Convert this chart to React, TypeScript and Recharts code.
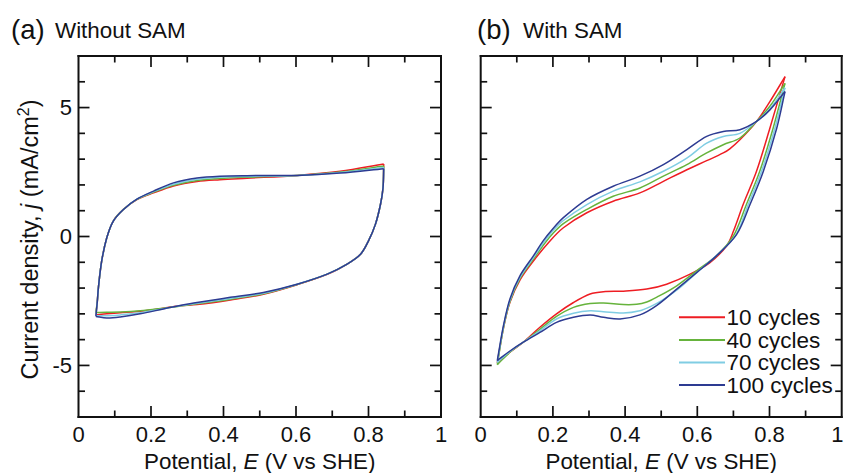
import React from 'react';
import { LineChart, Line, XAxis, YAxis, Legend } from 'recharts';

const FONT = '"Liberation Sans", Arial, Helvetica, sans-serif';
const INK = '#111';

// ---- series meta ----
const seriesNames = ['10 cycles', '40 cycles', '70 cycles', '100 cycles'];
const seriesColors = ['#ee1d23', '#66b33c', '#80cde3', '#2d3b92'];

// ---- tick values / labels ----
const xTickValues = [0, 0.1, 0.2, 0.3, 0.4, 0.5, 0.6, 0.7, 0.8, 0.9, 1];
const xTickLabels = ['0', '', '0.2', '', '0.4', '', '0.6', '', '0.8', '', '1'];
const yTickValues = [-6, -5, -4, -3, -2, -1, 0, 1, 2, 3, 4, 5, 6];
const yTickLabels = ['', '-5', '', '', '', '', '0', '', '', '', '', '5', ''];

// ---- (a) Without SAM : [E (V vs SHE), j (mA/cm2)] ----
// anodic sweep (E increasing)
const aRedFwd = [[0.048,-3.04],[0.052,-2.5],[0.055,-1.97],[0.064,-0.95],[0.078,-0.05],[0.096,0.6],[0.124,1.05],[0.16,1.42],[0.207,1.69],[0.262,1.96],[0.327,2.13],[0.39,2.2],[0.465,2.26],[0.603,2.37],[0.722,2.53],[0.842,2.81]];
const aGreenFwd = [[0.048,-2.95],[0.052,-2.5],[0.055,-1.97],[0.064,-0.95],[0.078,-0.05],[0.096,0.6],[0.124,1.05],[0.16,1.43],[0.207,1.72],[0.262,1.99],[0.327,2.17],[0.39,2.25],[0.465,2.3],[0.603,2.37],[0.722,2.5],[0.842,2.73]];
const aLightFwd = [[0.048,-3.08],[0.052,-2.5],[0.055,-1.97],[0.064,-0.95],[0.078,-0.05],[0.096,0.6],[0.124,1.05],[0.16,1.44],[0.207,1.74],[0.262,2.03],[0.327,2.22],[0.39,2.3],[0.465,2.33],[0.603,2.37],[0.722,2.48],[0.842,2.68]];
const aBlueFwd = [[0.048,-3.1],[0.052,-2.5],[0.055,-1.97],[0.064,-0.95],[0.078,-0.05],[0.096,0.6],[0.124,1.05],[0.16,1.44],[0.207,1.76],[0.262,2.08],[0.327,2.27],[0.39,2.34],[0.465,2.36],[0.603,2.37],[0.722,2.46],[0.842,2.63]];
// cathodic sweep (listed with E increasing)
const aRedRev = [[0.048,-3.04],[0.078,-3.0],[0.115,-2.96],[0.17,-2.9],[0.234,-2.78],[0.28,-2.69],[0.327,-2.64],[0.419,-2.46],[0.51,-2.24],[0.603,-1.87],[0.686,-1.47],[0.741,-1.07],[0.778,-0.69],[0.8,-0.17],[0.819,0.47],[0.833,1.24],[0.84,1.88],[0.842,2.81]];
const aGreenRev = [[0.048,-2.95],[0.078,-2.94],[0.115,-2.93],[0.17,-2.88],[0.234,-2.78],[0.28,-2.7],[0.327,-2.61],[0.419,-2.43],[0.51,-2.22],[0.603,-1.86],[0.686,-1.46],[0.741,-1.07],[0.778,-0.69],[0.8,-0.17],[0.819,0.47],[0.833,1.24],[0.84,1.88],[0.842,2.73]];
const aLightRev = [[0.048,-3.08],[0.078,-3.07],[0.115,-3.04],[0.17,-2.96],[0.234,-2.8],[0.28,-2.69],[0.327,-2.59],[0.419,-2.4],[0.51,-2.2],[0.603,-1.85],[0.686,-1.46],[0.741,-1.07],[0.778,-0.69],[0.8,-0.17],[0.819,0.47],[0.833,1.24],[0.84,1.88],[0.842,2.68]];
const aBlueRev = [[0.048,-3.1],[0.078,-3.16],[0.115,-3.12],[0.17,-3.0],[0.234,-2.81],[0.28,-2.68],[0.327,-2.56],[0.419,-2.36],[0.51,-2.17],[0.603,-1.85],[0.686,-1.46],[0.741,-1.07],[0.778,-0.69],[0.8,-0.17],[0.819,0.47],[0.833,1.24],[0.84,1.88],[0.842,2.63]];

// ---- (b) With SAM ----
const bRedFwd = [[0.046,-4.9],[0.063,-3.55],[0.081,-2.55],[0.109,-1.68],[0.146,-0.95],[0.19,-0.2],[0.229,0.34],[0.294,0.92],[0.367,1.37],[0.441,1.69],[0.506,2.14],[0.571,2.59],[0.626,2.94],[0.672,3.24],[0.69,3.4],[0.718,3.75],[0.764,4.46],[0.801,5.23],[0.843,6.2]];
const bGreenFwd = [[0.046,-4.97],[0.063,-3.55],[0.081,-2.52],[0.109,-1.62],[0.146,-0.88],[0.178,-0.25],[0.2,0.12],[0.229,0.5],[0.294,1.05],[0.367,1.56],[0.441,1.88],[0.506,2.34],[0.571,2.79],[0.626,3.24],[0.672,3.56],[0.718,3.82],[0.764,4.46],[0.801,5.05],[0.843,5.94]];
const bLightFwd = [[0.046,-4.88],[0.063,-3.5],[0.081,-2.47],[0.109,-1.58],[0.146,-0.82],[0.175,-0.22],[0.2,0.22],[0.229,0.62],[0.294,1.24],[0.367,1.76],[0.441,2.12],[0.506,2.53],[0.571,3.04],[0.626,3.62],[0.672,3.88],[0.718,4.0],[0.764,4.46],[0.801,4.95],[0.843,5.77]];
const bBlueFwd = [[0.046,-4.81],[0.063,-3.46],[0.081,-2.42],[0.109,-1.52],[0.146,-0.75],[0.173,-0.17],[0.2,0.3],[0.229,0.73],[0.294,1.44],[0.367,1.95],[0.441,2.34],[0.506,2.79],[0.571,3.37],[0.626,3.88],[0.672,4.07],[0.718,4.14],[0.764,4.46],[0.801,4.91],[0.843,5.62]];
const bRedRev = [[0.046,-4.9],[0.08,-4.5],[0.118,-4.1],[0.164,-3.52],[0.21,-3.0],[0.257,-2.56],[0.303,-2.23],[0.34,-2.14],[0.395,-2.12],[0.46,-2.04],[0.515,-1.85],[0.58,-1.46],[0.635,-1.01],[0.681,-0.37],[0.7,0.2],[0.727,1.24],[0.764,2.53],[0.801,4.2],[0.843,6.2]];
const bGreenRev = [[0.046,-4.97],[0.08,-4.5],[0.118,-4.1],[0.164,-3.6],[0.21,-3.1],[0.257,-2.75],[0.303,-2.6],[0.34,-2.58],[0.395,-2.64],[0.432,-2.63],[0.46,-2.54],[0.487,-2.36],[0.543,-1.91],[0.598,-1.33],[0.653,-0.75],[0.7,0.02],[0.736,1.24],[0.773,2.53],[0.81,4.2],[0.843,5.94]];
const bLightRev = [[0.046,-4.88],[0.08,-4.47],[0.118,-4.1],[0.164,-3.66],[0.21,-3.2],[0.257,-2.98],[0.303,-2.88],[0.34,-2.92],[0.395,-2.97],[0.441,-2.88],[0.47,-2.72],[0.5,-2.5],[0.55,-2.0],[0.6,-1.38],[0.653,-0.74],[0.707,0.06],[0.741,1.24],[0.778,2.53],[0.815,4.2],[0.843,5.77]];
const bBlueRev = [[0.046,-4.81],[0.08,-4.45],[0.118,-4.1],[0.164,-3.72],[0.21,-3.33],[0.257,-3.13],[0.303,-3.04],[0.34,-3.13],[0.386,-3.2],[0.441,-3.04],[0.487,-2.68],[0.543,-2.04],[0.598,-1.4],[0.653,-0.75],[0.709,0.08],[0.746,1.24],[0.783,2.53],[0.82,4.2],[0.843,5.62]];

const panelA = [[aRedFwd, aRedRev], [aGreenFwd, aGreenRev], [aLightFwd, aLightRev], [aBlueFwd, aBlueRev]];
const panelB = [[bRedFwd, bRedRev], [bGreenFwd, bGreenRev], [bLightFwd, bLightRev], [bBlueFwd, bBlueRev]];

const toPts = (arr: number[][]) => arr.map(([x, y]) => ({ x, y }));

// Smooth interpolating curve (chord-length Catmull-Rom style) used as a d3 curve factory.
function smoothCurve(context: any) {
  let pts: number[][] = [];
  return {
    areaStart() {},
    areaEnd() {},
    lineStart() {
      pts = [];
    },
    point(x: number, y: number) {
      pts.push([+x, +y]);
    },
    lineEnd() {
      const n = pts.length;
      if (!n) return;
      context.moveTo(pts[0][0], pts[0][1]);
      if (n === 1) return;
      if (n === 2) {
        context.lineTo(pts[1][0], pts[1][1]);
        return;
      }
      const d: number[] = [];
      for (let i = 0; i < n - 1; i++) {
        d.push(Math.max(1e-6, Math.hypot(pts[i + 1][0] - pts[i][0], pts[i + 1][1] - pts[i][1])));
      }
      const m: number[][] = [];
      for (let i = 0; i < n; i++) {
        if (i === 0) m.push([(pts[1][0] - pts[0][0]) / d[0], (pts[1][1] - pts[0][1]) / d[0]]);
        else if (i === n - 1) m.push([(pts[n - 1][0] - pts[n - 2][0]) / d[n - 2], (pts[n - 1][1] - pts[n - 2][1]) / d[n - 2]]);
        else {
          const s = d[i - 1] + d[i];
          m.push([(pts[i + 1][0] - pts[i - 1][0]) / s, (pts[i + 1][1] - pts[i - 1][1]) / s]);
        }
      }
      for (let i = 0; i < n - 1; i++) {
        const k = d[i] / 3;
        context.bezierCurveTo(
          pts[i][0] + m[i][0] * k, pts[i][1] + m[i][1] * k,
          pts[i + 1][0] - m[i + 1][0] * k, pts[i + 1][1] - m[i + 1][1] * k,
          pts[i + 1][0], pts[i + 1][1]
        );
      }
    },
  };
}

const MAJOR = 11;
const MINOR = 6.5;

function labelFor(values: number[], labels: string[], v: number) {
  const i = values.findIndex((t) => Math.abs(t - v) < 1e-9);
  return i >= 0 ? labels[i] : '';
}
function isEdge(v: number, lo: number, hi: number) {
  return Math.abs(v - lo) < 1e-9 || Math.abs(v - hi) < 1e-9;
}

const makeBottomTick = (maxX: number) => (p: any) => {
  const v = p.payload.value;
  const lab = labelFor(xTickValues, xTickLabels, v);
  const len = lab ? MAJOR : MINOR;
  const half = lab.length * 6.1 + 0.5;
  const tx = Math.min(p.x, maxX - half);
  return (
    <g>
      {!isEdge(v, 0, 1) && <line x1={p.x} x2={p.x} y1={p.y} y2={p.y - len} stroke={INK} strokeWidth={1.7} />}
      {lab && (
        <text x={tx} y={p.y + 25} textAnchor="middle" fontSize={22} fontFamily={FONT} fill={INK}>{lab}</text>
      )}
    </g>
  );
};
const TopTick = (p: any) => {
  const v = p.payload.value;
  const lab = labelFor(xTickValues, xTickLabels, v);
  const len = lab ? MAJOR : MINOR;
  if (isEdge(v, 0, 1)) return <g />;
  return <line x1={p.x} x2={p.x} y1={p.y} y2={p.y + len} stroke={INK} strokeWidth={1.7} />;
};
const makeLeftTick = (showLabels: boolean) => (p: any) => {
  const v = p.payload.value;
  const lab = labelFor(yTickValues, yTickLabels, v);
  const len = lab ? MAJOR : MINOR;
  return (
    <g>
      <line x1={p.x} x2={p.x + len} y1={p.y} y2={p.y} stroke={INK} strokeWidth={1.7} />
      {showLabels && lab && (
        <text x={p.x - 6.5} y={p.y + 7.8} textAnchor="end" fontSize={22} fontFamily={FONT} fill={INK}>{lab}</text>
      )}
    </g>
  );
};
const RightTick = (p: any) => {
  const v = p.payload.value;
  const lab = labelFor(yTickValues, yTickLabels, v);
  const len = lab ? MAJOR : MINOR;
  return <line x1={p.x} x2={p.x - len} y1={p.y} y2={p.y} stroke={INK} strokeWidth={1.7} />;
};

const XTitle = (p: any) => {
  const vb = p.viewBox || {};
  return (
    <text x={vb.x + vb.width / 2} y={vb.y + 51.5} textAnchor="middle" fontSize={22.4} fontFamily={FONT} fill={INK} style={{ whiteSpace: 'pre' }}>
      <tspan>Potential, </tspan>
      <tspan fontStyle="italic">E</tspan>
      <tspan> (V vs SHE)</tspan>
    </text>
  );
};

const YTitle = (p: any) => {
  const vb = p.viewBox || {};
  const cx = 38;
  const cy = vb.y + vb.height / 2 + 3;
  return (
    <text x={cx} y={cy} transform={`rotate(-90, ${cx}, ${cy})`} textAnchor="middle" fontSize={23.5} fontFamily={FONT} fill={INK} style={{ whiteSpace: 'pre' }}>
      <tspan>Current density, </tspan>
      <tspan fontStyle="italic">j</tspan>
      <tspan> (mA/cm</tspan>
      <tspan fontSize={16} dy={-9}>2</tspan>
      <tspan dy={9}>)</tspan>
    </text>
  );
};

const LegendBox = () => (
  <svg width={180} height={100} style={{ display: 'block', overflow: 'visible' }}>
    {seriesNames.map((n, i) => {
      const y = 17.3 + 22.6 * i;
      return (
        <g key={n}>
          <line x1={0} x2={46} y1={y} y2={y} stroke={seriesColors[i]} strokeWidth={2} />
          <text x={47.5} y={y + 7.8} fontSize={22.5} fontFamily={FONT} fill={INK}>{n}</text>
        </g>
      );
    })}
  </svg>
);

const axisLine = { stroke: INK, strokeWidth: 2, strokeLinecap: 'square' as const };

function Panel(props: { width: number; margin: any; loops: number[][][][]; yLabels: boolean; yTitle: boolean; legend: boolean }) {
  const { width, margin, loops, yLabels, yTitle, legend } = props;
  return (
    <LineChart width={width} height={473} margin={margin}>
      <XAxis xAxisId="b" dataKey="x" type="number" domain={[0, 1]} ticks={xTickValues} interval={0} orientation="bottom" height={30}
        axisLine={axisLine} tickLine={false} tickSize={0} tickMargin={0} tick={makeBottomTick(width)} allowDataOverflow label={<XTitle />} />
      <XAxis xAxisId="t" dataKey="x" type="number" domain={[0, 1]} ticks={xTickValues} interval={0} orientation="top" height={1}
        axisLine={axisLine} tickLine={false} tickSize={0} tickMargin={0} tick={TopTick} allowDataOverflow />
      <YAxis yAxisId="l" type="number" domain={[-7, 7]} ticks={yTickValues} interval={0} orientation="left" width={40}
        axisLine={axisLine} tickLine={false} tickSize={0} tickMargin={0} tick={makeLeftTick(yLabels)} allowDataOverflow
        label={yTitle ? <YTitle /> : undefined} />
      <YAxis yAxisId="r" type="number" domain={[-7, 7]} ticks={yTickValues} interval={0} orientation="right" width={1}
        axisLine={axisLine} tickLine={false} tickSize={0} tickMargin={0} tick={RightTick} allowDataOverflow />
      {loops.map((pair, si) =>
        pair.map((branch, bi) => (
          <Line key={`${si}-${bi}`} xAxisId="b" yAxisId="l" data={toPts(branch)} dataKey="y" type={smoothCurve as any}
            stroke={seriesColors[si]} strokeWidth={1.5} dot={false} activeDot={false} isAnimationActive={false} name={seriesNames[si]} />
        ))
      )}
      {legend && (
        <Legend layout="vertical" align="center" verticalAlign="middle" content={LegendBox}
          wrapperStyle={{ left: 249, top: 300, width: 180, height: 100 }} />
      )}
    </LineChart>
  );
}

export default function App() {
  return (
    <div style={{ position: 'absolute', left: 0, top: 0, width: 844, height: 473, background: '#fff', fontFamily: FONT, overflow: 'hidden' }}>
      <div style={{ position: 'absolute', left: 0, top: 0 }}>
        <Panel width={450} margin={{ top: 55, right: 8, bottom: 26, left: 38.5 }} loops={panelA} yLabels yTitle legend={false} />
      </div>
      <div style={{ position: 'absolute', left: 430, top: 0 }}>
        <Panel width={414} margin={{ top: 55, right: 1.3, bottom: 26, left: 10.7 }} loops={panelB} yLabels={false} yTitle={false} legend />
      </div>
      <svg width={844} height={60} style={{ position: 'absolute', left: 0, top: 0, pointerEvents: 'none' }}>
        <text x={11} y={38.5} fontSize={27.5} fontFamily={FONT} fill={INK}>(a)</text>
        <text x={55} y={38.3} fontSize={22.4} fontFamily={FONT} fill={INK}>Without SAM</text>
        <text x={477} y={38.5} fontSize={27.5} fontFamily={FONT} fill={INK}>(b)</text>
        <text x={523} y={38.3} fontSize={22.4} fontFamily={FONT} fill={INK}>With SAM</text>
      </svg>
    </div>
  );
}
